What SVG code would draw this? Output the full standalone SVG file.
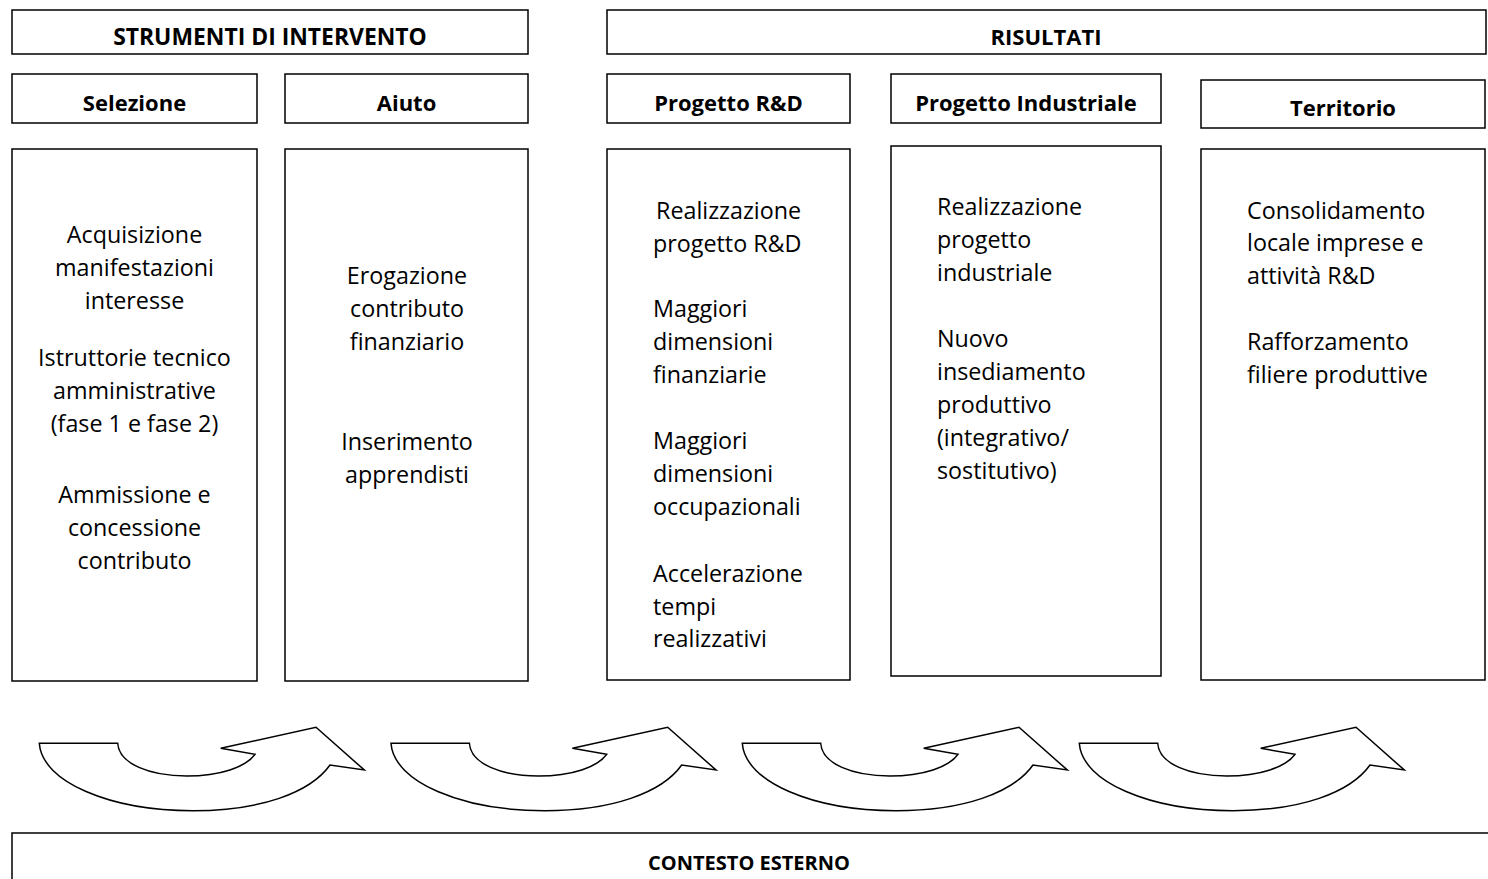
<svg xmlns="http://www.w3.org/2000/svg" xmlns:xlink="http://www.w3.org/1999/xlink" width="1488" height="879" viewBox="0 0 1488 879">
  <style>
    .box { fill: #ffffff; stroke: #000000; stroke-width: 1.5; }
    .hdr { font-family: "Open Sans", "Noto Sans", "Liberation Sans", sans-serif; font-size: 22px; font-weight: bold; fill: #000; text-anchor: middle; font-variant-ligatures: none; }
    .txt { font-family: "Open Sans", "Noto Sans", "Liberation Sans", sans-serif; font-size: 23.3px; fill: #000; font-variant-ligatures: none; }
    .c { text-anchor: middle; }
    .arrow { fill: #ffffff; stroke: #000000; stroke-width: 1.5; stroke-linejoin: miter; }
  </style>
  <defs>
    <path id="curvedArrow" class="arrow" d="M39.3,743.3 L117.7,743.3 C119,764 150,776 186.7,776 C220,776 246,767 255,754.3 L220.7,748.3 L316,727.3 L364.3,770 L330,765 C310,793 260,810.7 193,810.7 C110,810.7 42,782 39.3,743.3 Z"/>
  </defs>
  <rect width="1488" height="879" fill="#ffffff"/>

  <g id="strumenti">
    <rect class="box" x="12" y="10" width="516" height="44"/>
    <text class="hdr" x="270" y="45" style="font-size:22.9px">STRUMENTI DI INTERVENTO</text>
  </g>
  <g id="risultati">
    <rect class="box" x="607" y="10" width="879" height="44"/>
    <text class="hdr" x="1046" y="45">RISULTATI</text>
  </g>

  <g id="selezione-header">
    <rect class="box" x="12" y="74" width="245" height="49"/>
    <text class="hdr" x="134.5" y="110.5">Selezione</text>
  </g>
  <g id="aiuto-header">
    <rect class="box" x="285" y="74" width="243" height="49"/>
    <text class="hdr" x="406.5" y="110.5">Aiuto</text>
  </g>
  <g id="progetto-rd-header">
    <rect class="box" x="607" y="74" width="243" height="49"/>
    <text class="hdr" x="728.5" y="110.5">Progetto R&amp;D</text>
  </g>
  <g id="progetto-industriale-header">
    <rect class="box" x="891" y="74" width="270" height="49"/>
    <text class="hdr" x="1026" y="110.5">Progetto Industriale</text>
  </g>
  <g id="territorio-header">
    <rect class="box" x="1201" y="80" width="284" height="48"/>
    <text class="hdr" x="1343" y="115.5">Territorio</text>
  </g>

  <g id="selezione-content">
    <rect class="box" x="12" y="149" width="245" height="532"/>
    <text class="txt c" x="134.5" y="242.5">Acquisizione</text>
    <text class="txt c" x="134.5" y="275.5">manifestazioni</text>
    <text class="txt c" x="134.5" y="308.5">interesse</text>
    <text class="txt c" x="134.5" y="366">Istruttorie tecnico</text>
    <text class="txt c" x="134.5" y="399">amministrative</text>
    <text class="txt c" x="134.5" y="432">(fase 1 e fase 2)</text>
    <text class="txt c" x="134.5" y="503">Ammissione e</text>
    <text class="txt c" x="134.5" y="536">concessione</text>
    <text class="txt c" x="134.5" y="569">contributo</text>
  </g>

  <g id="aiuto-content">
    <rect class="box" x="285" y="149" width="243" height="532"/>
    <text class="txt c" x="407" y="284">Erogazione</text>
    <text class="txt c" x="407" y="317">contributo</text>
    <text class="txt c" x="407" y="350">finanziario</text>
    <text class="txt c" x="407" y="450">Inserimento</text>
    <text class="txt c" x="407" y="483">apprendisti</text>
  </g>

  <g id="progetto-rd-content">
    <rect class="box" x="607" y="149" width="243" height="531"/>
    <text class="txt" x="656" y="219">Realizzazione</text>
    <text class="txt" x="653" y="252">progetto R&amp;D</text>
    <text class="txt" x="653" y="317">Maggiori</text>
    <text class="txt" x="653" y="350">dimensioni</text>
    <text class="txt" x="653" y="383">finanziarie</text>
    <text class="txt" x="653" y="449">Maggiori</text>
    <text class="txt" x="653" y="482">dimensioni</text>
    <text class="txt" x="653" y="515">occupazionali</text>
    <text class="txt" x="653" y="582">Accelerazione</text>
    <text class="txt" x="653" y="615">tempi</text>
    <text class="txt" x="653" y="647">realizzativi</text>
  </g>

  <g id="progetto-industriale-content">
    <rect class="box" x="891" y="146" width="270" height="530"/>
    <text class="txt" x="937" y="215">Realizzazione</text>
    <text class="txt" x="937" y="248">progetto</text>
    <text class="txt" x="937" y="281">industriale</text>
    <text class="txt" x="937" y="347">Nuovo</text>
    <text class="txt" x="937" y="380">insediamento</text>
    <text class="txt" x="937" y="413">produttivo</text>
    <text class="txt" x="937" y="446">(integrativo/</text>
    <text class="txt" x="937" y="479">sostitutivo)</text>
  </g>

  <g id="territorio-content">
    <rect class="box" x="1201" y="149" width="284" height="531"/>
    <text class="txt" x="1247" y="219">Consolidamento</text>
    <text class="txt" x="1247" y="251">locale imprese e</text>
    <text class="txt" x="1247" y="284">attività R&amp;D</text>
    <text class="txt" x="1247" y="350">Rafforzamento</text>
    <text class="txt" x="1247" y="383">filiere produttive</text>
  </g>

  <g id="connectors">
    <use xlink:href="#curvedArrow" href="#curvedArrow"/>
    <use xlink:href="#curvedArrow" href="#curvedArrow" transform="translate(351.7,0)"/>
    <use xlink:href="#curvedArrow" href="#curvedArrow" transform="translate(703,0)"/>
    <use xlink:href="#curvedArrow" href="#curvedArrow" transform="translate(1040,0)"/>
  </g>

  <g id="contesto-esterno">
    <rect class="box" x="12" y="833" width="1490" height="60"/>
    <text class="hdr" x="749" y="870" style="font-size:20px">CONTESTO ESTERNO</text>
  </g>
</svg>
